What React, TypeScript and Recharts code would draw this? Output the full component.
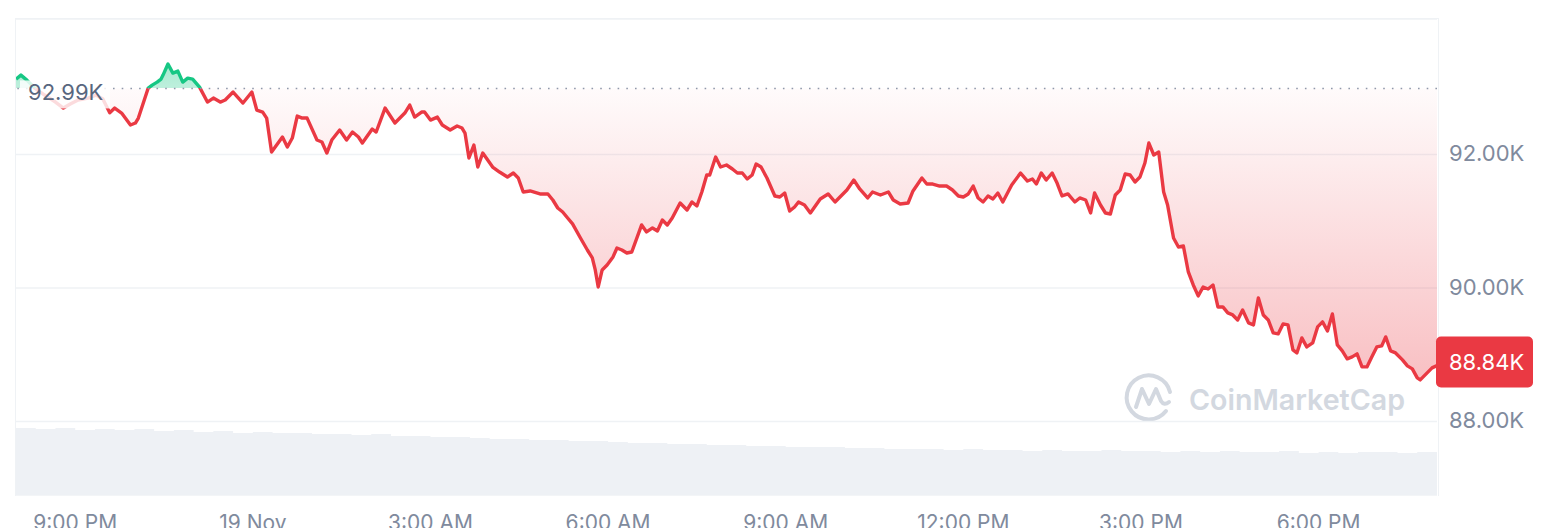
import React from 'react';
import { ComposedChart, Area, XAxis, YAxis, CartesianGrid, ReferenceLine } from 'recharts';

// minutes since 8:00 PM, 18 Nov
const priceTimes = [
  0, 5, 11, 19, 29, 40, 48, 55, 63, 73, 81, 88, 95, 100, 107, 116, 121, 124, 134, 138,
  143, 147, 149, 154, 159, 164, 169, 174, 179, 186, 194, 200, 207, 212, 220, 230, 239, 244, 250, 254,
  259, 270, 275, 280, 285, 290, 295, 305, 310, 315, 320, 328, 335, 341, 347, 351, 361, 365, 374, 384,
  394, 399, 404, 411, 414, 420, 427, 432, 440, 447, 452, 455, 459, 464, 468, 473, 483, 490, 498, 504,
  509, 514, 521, 531, 539, 544, 549, 554, 559, 564, 572, 579, 584, 587, 590, 594, 599, 605, 609, 614,
  619, 624, 634, 639, 645, 650, 655, 660, 665, 673, 680, 685, 690, 695, 700, 703, 709, 714, 720, 726,
  731, 736, 741, 746, 750, 755, 761, 769, 774, 779, 784, 789, 793, 799, 805, 815, 823, 830, 842, 849,
  855, 863, 868, 876, 884, 889, 896, 904, 909, 918, 923, 929, 936, 943, 949, 955, 960, 965, 970, 975,
  980, 985, 990, 995, 1000, 1009, 1018, 1025, 1030, 1034, 1039, 1044, 1050, 1055, 1060, 1066, 1073, 1078, 1084, 1089,
  1093, 1099, 1104, 1109, 1114, 1119, 1124, 1129, 1134, 1139, 1144, 1148, 1153, 1158, 1163, 1167, 1173, 1178, 1183, 1188,
  1193, 1198, 1203, 1208, 1213, 1218, 1223, 1228, 1233, 1238, 1243, 1249, 1254, 1259, 1264, 1269, 1274, 1279, 1284, 1289,
  1294, 1298, 1303, 1308, 1314, 1319, 1324, 1329, 1334, 1339, 1344, 1349, 1354, 1359, 1364, 1369, 1374, 1379, 1384, 1388,
  1393, 1398, 1405, 1410, 1415, 1420, 1423, 1428, 1435, 1440,
];

const prices = [
  93130, 93190, 93115, 92996, 92891, 92786, 92696, 92756, 92816, 92846, 92891, 92831, 92626, 92696, 92621, 92442, 92472, 92546, 92996, 93040,
  93085, 93130, 93190, 93355, 93220, 93250, 93085, 93145, 93130, 93010, 92786, 92846, 92786, 92816, 92936, 92771, 92936, 92666, 92636, 92546,
  92037, 92262, 92112, 92247, 92576, 92546, 92546, 92217, 92187, 92022, 92217, 92367, 92217, 92337, 92262, 92172, 92382, 92337, 92696, 92472,
  92621, 92741, 92561, 92636, 92636, 92516, 92561, 92442, 92367, 92427, 92397, 92322, 91948, 92142, 91813, 92022, 91813, 91738, 91663, 91723,
  91648, 91439, 91454, 91409, 91409, 91319, 91199, 91139, 91049, 90960, 90750, 90570, 90451, 90271, 90016, 90271, 90346, 90466, 90600, 90570,
  90525, 90540, 90945, 90840, 90900, 90855, 91019, 90945, 91049, 91274, 91169, 91289, 91229, 91439, 91693, 91693, 91963, 91813, 91843, 91783,
  91723, 91723, 91633, 91693, 91858, 91813, 91648, 91379, 91364, 91424, 91154, 91214, 91289, 91244, 91124, 91334, 91409, 91289, 91469, 91618,
  91484, 91349, 91439, 91394, 91439, 91319, 91259, 91274, 91454, 91648, 91558, 91558, 91528, 91528, 91469, 91379, 91364, 91409, 91528, 91349,
  91289, 91379, 91334, 91424, 91289, 91543, 91723, 91603, 91633, 91558, 91723, 91618, 91723, 91573, 91379, 91409, 91289, 91349, 91319, 91124,
  91424, 91244, 91124, 91109, 91394, 91469, 91708, 91693, 91588, 91663, 91873, 92172, 91993, 92037, 91439, 91244, 90750, 90615, 90630, 90241,
  90046, 89882, 90016, 89986, 90046, 89717, 89717, 89627, 89597, 89522, 89672, 89478, 89448, 89852, 89597, 89522, 89328, 89313, 89463, 89448,
  89073, 89028, 89253, 89118, 89178, 89418, 89493, 89358, 89612, 89148, 89058, 88939, 88969, 89014, 88819, 88819, 88969, 89118, 89133, 89268,
  89058, 89028, 88924, 88834, 88789, 88654, 88624, 88699, 88804, 88840,
];

// volume per 20-minute bucket (relative units)
const volumeStep = 20;
const volumes = [
  67, 66, 67, 65, 66, 65, 66, 64, 65, 63, 64, 62, 63, 62, 62, 61, 61, 60, 61, 59,
  59, 58, 58, 57, 56, 56, 55, 55, 54, 54, 53, 52, 52, 51, 51, 50, 50, 49, 49, 48,
  48, 48, 47, 47, 46, 46, 46, 45, 46, 45, 45, 44, 45, 44, 44, 45, 44, 44, 43, 44,
  43, 44, 43, 43, 44, 42, 43, 42, 43, 43, 42, 43, 43,
];

const xTicks = [60, 240, 420, 600, 780, 960, 1140, 1320];
const xTickLabels = ['9:00 PM', '19 Nov', '3:00 AM', '6:00 AM', '9:00 AM', '12:00 PM', '3:00 PM', '6:00 PM'];
const yTicks = [88000, 90000, 92000];
const openPrice = 92990;
const lastPrice = prices[prices.length - 1];

const rowMap = new Map<number, any>();
priceTimes.forEach((t, i) => rowMap.set(t, { ...(rowMap.get(t) || { t }), price: prices[i] }));
volumes.forEach((v, i) => {
  const t = i * volumeStep;
  rowMap.set(t, { ...(rowMap.get(t) || { t }), vol: v });
});
const chartData = Array.from(rowMap.values()).sort((a, b) => a.t - b.t);

const pMax = Math.max(...prices);
const pMin = Math.min(...prices);
const splitOffset = (pMax - openPrice) / (pMax - pMin);

const fmtK = (v: number) => (v / 1000).toFixed(2) + 'K';
const FONT = 'Inter, "Noto Sans", sans-serif';

const XTick = (props: any) => {
  const { x, payload } = props;
  const idx = xTicks.indexOf(payload.value);
  return (
    <text x={x} y={530} textAnchor="middle" fontFamily={FONT} fontSize={21} fill="#808a9d">
      {xTickLabels[idx]}
    </text>
  );
};

const YTick = (props: any) => {
  const { x, y, payload } = props;
  return (
    <text x={x + 4} y={y - 1.5} dominantBaseline="central" textAnchor="start" fontFamily={FONT} fontSize={22} fill="#808a9d">
      {fmtK(payload.value)}
    </text>
  );
};

const OpenLabel = (props: any) => {
  const vb = props.viewBox || {};
  const x = vb.x;
  const y = vb.y;
  return (
    <g>
      <rect x={x + 4} y={y - 8} width={90} height={28} fill="#ffffff" fillOpacity={0.82} />
      <text x={x + 12} y={y + 3.5} dominantBaseline="central" fontFamily={FONT} fontSize={22} fill="#58667e">
        {fmtK(openPrice)}
      </text>
    </g>
  );
};

const LastLabel = (props: any) => {
  const vb = props.viewBox || {};
  const x = vb.x + vb.width - 1;
  const y = vb.y;
  return (
    <g>
      <rect x={x} y={y - 29} width={97} height={51} rx={5} fill="#ea3943" />
      <text x={x + 13} y={y - 3.5} dominantBaseline="central" fontFamily={FONT} fontSize={22} fill="#ffffff">
        {fmtK(lastPrice)}
      </text>
    </g>
  );
};

export default function App() {
  return (
    <div style={{ position: 'absolute', left: 0, top: 0, width: 1566, height: 528, background: '#fff' }}>
      <div
        style={{
          position: 'absolute', left: 15, top: 18, width: 1422, height: 477,
          borderTop: '1px solid #eff2f5', borderLeft: '1px solid #eff2f5', borderRight: '1px solid #eff2f5',
        }}
      />
      <svg width={1566} height={528} style={{ position: 'absolute', left: 0, top: 0 }}>
        <g fill="none" stroke="#d3d8e0" strokeWidth={4} strokeLinecap="round" strokeLinejoin="round">
          <path d="M1166 411 A22 22 0 1 1 1170 392" />
          <path d="M1136 407 L1142 389 L1149 404 L1156 389 L1161 401 Q1164 406 1169 402" />
        </g>
        <text x={1189} y={410} fontFamily={FONT} fontSize={29} fontWeight={600} fill="#d3d8e0" textLength={216} lengthAdjust="spacingAndGlyphs">
          CoinMarketCap
        </text>
      </svg>
      <div style={{ position: 'absolute', left: 0, top: 0 }}>
        <ComposedChart width={1566} height={528} data={chartData} margin={{ top: 19, right: 0, bottom: 0, left: 16 }}>
          <defs>
            <linearGradient id="strokeSplit" x1="0" y1="0" x2="0" y2="1">
              <stop offset={0} stopColor="#16c784" />
              <stop offset={splitOffset} stopColor="#16c784" />
              <stop offset={splitOffset} stopColor="#ea3943" />
              <stop offset={1} stopColor="#ea3943" />
            </linearGradient>
            <linearGradient id="fillSplit" x1="0" y1="0" x2="0" y2="1">
              <stop offset={0} stopColor="#16c784" stopOpacity={0.38} />
              <stop offset={splitOffset} stopColor="#16c784" stopOpacity={0.28} />
              <stop offset={splitOffset} stopColor="#ea3943" stopOpacity={0.02} />
              <stop offset={1} stopColor="#ea3943" stopOpacity={0.32} />
            </linearGradient>
          </defs>
          <CartesianGrid vertical={false} stroke="#eff2f5" strokeWidth={1.5} />
          <XAxis
            dataKey="t"
            type="number"
            domain={[0, 1440]}
            ticks={xTicks}
            tick={<XTick />}
            tickLine={false}
            axisLine={false}
            height={33}
            allowDataOverflow
          />
          <YAxis
            orientation="right"
            domain={[86900, 94030]}
            ticks={yTicks}
            tick={<YTick />}
            tickLine={false}
            axisLine={false}
            width={129}
            allowDataOverflow
          />
          <YAxis yAxisId="vol" hide domain={[0, 476]} />
          <Area
            yAxisId="vol"
            dataKey="vol"
            type="stepAfter"
            fill="#eef1f5"
            fillOpacity={1}
            stroke="none"
            connectNulls
            isAnimationActive={false}
            dot={false}
            activeDot={false}
          />
          <Area
            dataKey="price"
            type="linear"
            baseValue={openPrice}
            stroke="url(#strokeSplit)"
            strokeWidth={3.4}
            strokeLinejoin="round"
            fill="url(#fillSplit)"
            fillOpacity={1}
            connectNulls
            isAnimationActive={false}
            dot={false}
            activeDot={false}
          />
          <ReferenceLine y={openPrice} stroke="#8f98aa" strokeWidth={1.6} strokeDasharray="1.6 7.1" label={<OpenLabel />} />
          <ReferenceLine y={lastPrice} stroke="none" label={<LastLabel />} />
        </ComposedChart>
      </div>
    </div>
  );
}
